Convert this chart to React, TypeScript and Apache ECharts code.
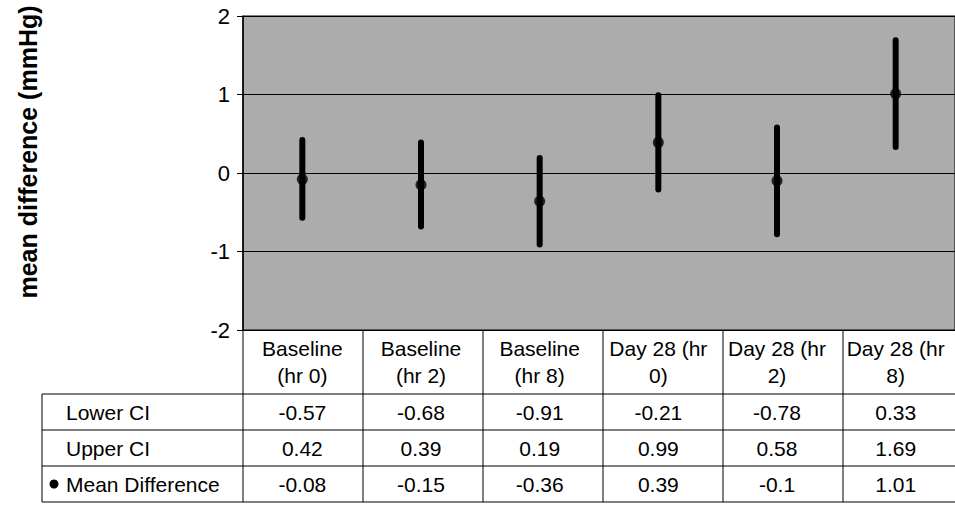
import React, { useEffect, useRef } from "react";
import * as echarts from "echarts";

const categories = [
  "Baseline\n(hr 0)",
  "Baseline\n(hr 2)",
  "Baseline\n(hr 8)",
  "Day 28 (hr\n0)",
  "Day 28 (hr\n2)",
  "Day 28 (hr\n8)",
];
const lowerCI = [-0.57, -0.68, -0.91, -0.21, -0.78, 0.33];
const upperCI = [0.42, 0.39, 0.19, 0.99, 0.58, 1.69];
const meanDiff = [-0.08, -0.15, -0.36, 0.39, -0.1, 1.01];
const rowLabels = ["Lower CI", "Upper CI", "Mean Difference"];
const yAxisTitle = "mean difference (mmHg)";

const FONT = "'Liberation Sans', Arial, Helvetica, sans-serif";
const GRID_LEFT = 243;
const GRID_TOP = 16;
const COL_W = 120;
const GRID_H = 314;
const TABLE_LEFT = 42;
const HEADER_BOTTOM = 394;
const ROW_H = 36;

export default function App() {
  const ref = useRef<HTMLDivElement>(null);
  useEffect(() => {
    if (!ref.current) return;
    const chart = echarts.init(ref.current, undefined, { renderer: "svg" });
    const gridW = COL_W * categories.length;
    const option: any = {
      animation: false,
      backgroundColor: "#ffffff",
      grid: {
        left: GRID_LEFT,
        top: GRID_TOP,
        width: gridW,
        height: GRID_H,
        show: true,
        backgroundColor: "#acacac",
        borderColor: "#000",
        borderWidth: 1,
      },
      xAxis: {
        type: "category",
        data: categories,
        show: false,
        boundaryGap: true,
      },
      yAxis: {
        type: "value",
        min: -2,
        max: 2,
        interval: 1,
        axisLine: { show: true, lineStyle: { color: "#000", width: 1.5 } },
        axisTick: { show: true, length: 6, lineStyle: { color: "#000" } },
        axisLabel: {
          color: "#000",
          fontSize: 22,
          fontFamily: FONT,
          margin: 13,
        },
        splitLine: { show: true, lineStyle: { color: "#000", width: 1 } },
      },
      series: [
        {
          type: "custom",
          data: categories.map((_, i) => [i, lowerCI[i], upperCI[i]]),
          renderItem: (params: any, api: any) => {
            const p1 = api.coord([api.value(0), api.value(1)]);
            const p2 = api.coord([api.value(0), api.value(2)]);
            return {
              type: "line",
              shape: { x1: p1[0], y1: p1[1], x2: p2[0], y2: p2[1] },
              style: { stroke: "#000", lineWidth: 6, lineCap: "round" },
            };
          },
          z: 3,
        },
        {
          type: "scatter",
          data: categories.map((_, i) => [i, meanDiff[i]]),
          symbol: "circle",
          symbolSize: 11,
          itemStyle: { color: "#000" },
          z: 4,
        },
      ],
    };
    chart.setOption(option);

    const gridBottom = GRID_TOP + GRID_H;
    const tableRight = GRID_LEFT + gridW;
    const elements: any[] = [];
    elements.push({
      type: "text",
      x: 28,
      y: 152,
      rotation: Math.PI / 2,
      style: {
        text: yAxisTitle,
        font: `bold 25px ${FONT}`,
        fill: "#000",
        textAlign: "center",
        textVerticalAlign: "middle",
      },
    });
    for (let r = 0; r <= rowLabels.length; r++) {
      const y = HEADER_BOTTOM + r * ROW_H;
      elements.push({
        type: "line",
        shape: { x1: TABLE_LEFT, y1: y, x2: tableRight, y2: y },
        style: { stroke: "#000", lineWidth: 1 },
      });
    }
    const tableBottom = HEADER_BOTTOM + rowLabels.length * ROW_H;
    elements.push({
      type: "line",
      shape: { x1: TABLE_LEFT, y1: HEADER_BOTTOM, x2: TABLE_LEFT, y2: tableBottom },
      style: { stroke: "#000", lineWidth: 1 },
    });
    for (let c = 0; c <= categories.length; c++) {
      const x = GRID_LEFT + c * COL_W;
      elements.push({
        type: "line",
        shape: { x1: x, y1: gridBottom, x2: x, y2: tableBottom },
        style: { stroke: "#000", lineWidth: 1 },
      });
    }
    categories.forEach((cat, i) => {
      const cx = chart.convertToPixel({ xAxisIndex: 0 }, i) as number;
      elements.push({
        type: "text",
        x: cx,
        y: (gridBottom + HEADER_BOTTOM) / 2,
        style: {
          text: cat,
          font: `21px ${FONT}`,
          lineHeight: 27,
          fill: "#000",
          textAlign: "center",
          textVerticalAlign: "middle",
        },
      });
    });
    const rows = [lowerCI, upperCI, meanDiff];
    rows.forEach((vals, r) => {
      const cy = HEADER_BOTTOM + r * ROW_H + ROW_H / 2;
      elements.push({
        type: "text",
        x: 66,
        y: cy,
        style: {
          text: rowLabels[r],
          font: `21px ${FONT}`,
          fill: "#000",
          textAlign: "left",
          textVerticalAlign: "middle",
        },
      });
      vals.forEach((v, i) => {
        const cx = chart.convertToPixel({ xAxisIndex: 0 }, i) as number;
        elements.push({
          type: "text",
          x: cx,
          y: cy,
          style: {
            text: String(v),
            font: `21px ${FONT}`,
            fill: "#000",
            textAlign: "center",
            textVerticalAlign: "middle",
          },
        });
      });
    });
    elements.push({
      type: "circle",
      shape: { cx: 54, cy: HEADER_BOTTOM + 2 * ROW_H + ROW_H / 2, r: 4.5 },
      style: { fill: "#000" },
    });
    chart.setOption({ graphic: { elements } });

    return () => chart.dispose();
  }, []);
  return (
    <div
      ref={ref}
      style={{ position: "absolute", left: 0, top: 0, width: 955, height: 512 }}
    />
  );
}
